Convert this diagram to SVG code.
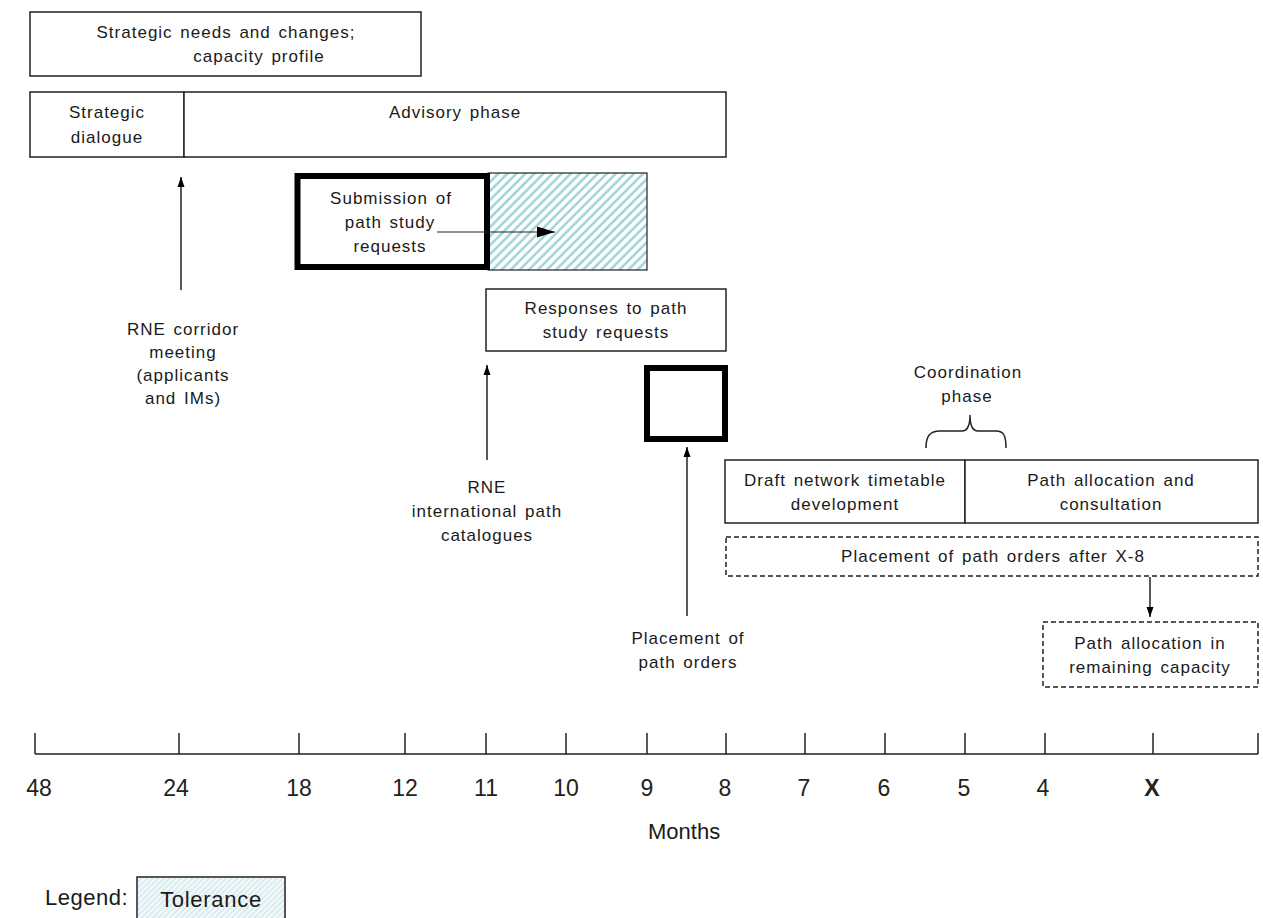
<svg xmlns="http://www.w3.org/2000/svg" width="1263" height="918" viewBox="0 0 1263 918">
<style>
.box{fill:#fff;stroke:#222;stroke-width:1.5}
.thick{fill:#fff;stroke:#000;stroke-width:6}
.dash{fill:#fff;stroke:#222;stroke-width:1.5;stroke-dasharray:5 3}
.ln{fill:none;stroke:#222;stroke-width:1.5}
.t{font-family:"Liberation Sans",Arial,sans-serif;font-size:17px;fill:#1a1a1a;text-anchor:middle;letter-spacing:1px;word-spacing:2px}
.n{font-family:"Liberation Sans",Arial,sans-serif;font-size:23px;fill:#222;text-anchor:middle}
.l{font-family:"Liberation Sans",Arial,sans-serif;font-size:22px;fill:#1a1a1a}
</style>
<defs>
<pattern id="hatch" patternUnits="userSpaceOnUse" width="6.4" height="6.4" patternTransform="rotate(45)">
<rect width="6.4" height="6.4" fill="#fff"/>
<line x1="1.5" y1="0" x2="1.5" y2="6.4" stroke="#9fd2d6" stroke-width="2.4"/>
</pattern>
<pattern id="hatch2" patternUnits="userSpaceOnUse" width="4" height="4" patternTransform="rotate(45)">
<rect width="4" height="4" fill="#f4fafb"/>
<line x1="1" y1="0" x2="1" y2="4" stroke="#c7e4e7" stroke-width="1.2"/>
</pattern>
<marker id="ah" viewBox="0 0 10 10" refX="10" refY="5" markerWidth="10" markerHeight="10" markerUnits="userSpaceOnUse" orient="auto">
<path d="M0,1.5 L10,5 L0,8.5 z" fill="#000"/>
</marker>
<marker id="ahb" viewBox="0 0 10 10" refX="10" refY="5" markerWidth="18" markerHeight="18" markerUnits="userSpaceOnUse" orient="auto">
<path d="M0,2 L10,5 L0,8 z" fill="#000"/>
</marker>
</defs>
<rect width="1263" height="918" fill="#fff"/>

<g id="strategic-needs">
<rect class="box" x="30" y="12" width="391" height="64"/>
<text class="t" x="226" y="38">Strategic needs and changes;</text>
<text class="t" x="259" y="62">capacity profile</text>
</g>

<g id="strategic-dialogue">
<rect class="box" x="30" y="92" width="154" height="65"/>
<text class="t" x="107" y="118">Strategic</text>
<text class="t" x="107" y="143">dialogue</text>
</g>

<g id="advisory-phase">
<rect class="box" x="184" y="92" width="542" height="65"/>
<text class="t" x="455" y="118">Advisory phase</text>
</g>

<g id="tolerance">
<rect x="488" y="173" width="159" height="97" fill="url(#hatch)" stroke="#222" stroke-width="1.2"/>
</g>

<g id="submission">
<rect class="thick" x="297.5" y="176" width="189.5" height="91"/>
<text class="t" x="391" y="204">Submission of</text>
<text class="t" x="390" y="228">path study</text>
<text class="t" x="390" y="252">requests</text>
</g>

<g id="responses">
<rect class="box" x="486" y="289" width="240" height="62"/>
<text class="t" x="606" y="314">Responses to path</text>
<text class="t" x="606" y="338">study requests</text>
</g>

<g id="placement-box">
<rect class="thick" x="647" y="368" width="78" height="71"/>
</g>

<g id="rne-corridor-label">
<text class="t" x="183" y="335">RNE corridor</text>
<text class="t" x="183" y="358">meeting</text>
<text class="t" x="183" y="381">(applicants</text>
<text class="t" x="183" y="404">and IMs)</text>
</g>

<g id="rne-catalogue-label">
<text class="t" x="487" y="493">RNE</text>
<text class="t" x="487" y="517">international path</text>
<text class="t" x="487" y="541">catalogues</text>
</g>

<g id="placement-label">
<text class="t" x="688" y="644">Placement of</text>
<text class="t" x="688" y="668">path orders</text>
</g>

<g id="coordination-phase">
<text class="t" x="968" y="378">Coordination</text>
<text class="t" x="967" y="402">phase</text>
<path class="ln" d="M926,448 C926,436 930,431 940,431 L962,431 C967,431 970,425 970,415 C970,425 973,431 978,431 L996,431 C1004,431 1006,436 1006,448"/>
</g>

<g id="draft-timetable">
<rect class="box" x="725" y="460" width="240" height="63"/>
<text class="t" x="845" y="486">Draft network timetable</text>
<text class="t" x="845" y="510">development</text>
</g>

<g id="path-allocation">
<rect class="box" x="965" y="460" width="293" height="63"/>
<text class="t" x="1111" y="486">Path allocation and</text>
<text class="t" x="1111" y="510">consultation</text>
</g>

<g id="placement-after">
<rect class="dash" x="726" y="537" width="532" height="39"/>
<text class="t" x="993" y="562">Placement of path orders after X-8</text>
</g>

<g id="remaining-capacity">
<rect class="dash" x="1043" y="622" width="215" height="65"/>
<text class="t" x="1150" y="649">Path allocation in</text>
<text class="t" x="1150" y="673">remaining capacity</text>
</g>

<g id="connectors">
<line class="ln" x1="181" y1="290" x2="181" y2="177" marker-end="url(#ah)"/>
<line class="ln" x1="487" y1="460" x2="487" y2="365" marker-end="url(#ah)"/>
<line class="ln" x1="687" y1="616" x2="687" y2="447" marker-end="url(#ah)"/>
<line class="ln" x1="1150" y1="577" x2="1150" y2="617" marker-end="url(#ah)"/>
<line x1="437" y1="232" x2="555" y2="232" stroke="#222" stroke-width="1" marker-end="url(#ahb)"/>
</g>

<g id="axis">
<path class="ln" d="M35,754 H1258 M35,733 V754 M179,733 V754 M299,733 V754 M405,733 V754 M486,733 V754 M566,733 V754 M647,733 V754 M726,733 V754 M805,733 V754 M885,733 V754 M965,733 V754 M1045,733 V754 M1153,733 V754 M1258,733 V754"/>
<text class="n" x="39" y="796">48</text>
<text class="n" x="176" y="796">24</text>
<text class="n" x="299" y="796">18</text>
<text class="n" x="405" y="796">12</text>
<text class="n" x="486" y="796">11</text>
<text class="n" x="566" y="796">10</text>
<text class="n" x="647" y="796">9</text>
<text class="n" x="725" y="796">8</text>
<text class="n" x="804" y="796">7</text>
<text class="n" x="884" y="796">6</text>
<text class="n" x="964" y="796">5</text>
<text class="n" x="1043" y="796">4</text>
<text class="n" x="1152" y="796" font-weight="bold">X</text>
<text class="l" x="648" y="839">Months</text>
</g>

<g id="legend">
<text class="l" x="45" y="905" letter-spacing="0.5">Legend:</text>
<rect x="137" y="877" width="148" height="50" fill="url(#hatch2)" stroke="#222" stroke-width="1.5"/>
<text class="l" x="211" y="907" text-anchor="middle" letter-spacing="0.7">Tolerance</text>
</g>
</svg>
